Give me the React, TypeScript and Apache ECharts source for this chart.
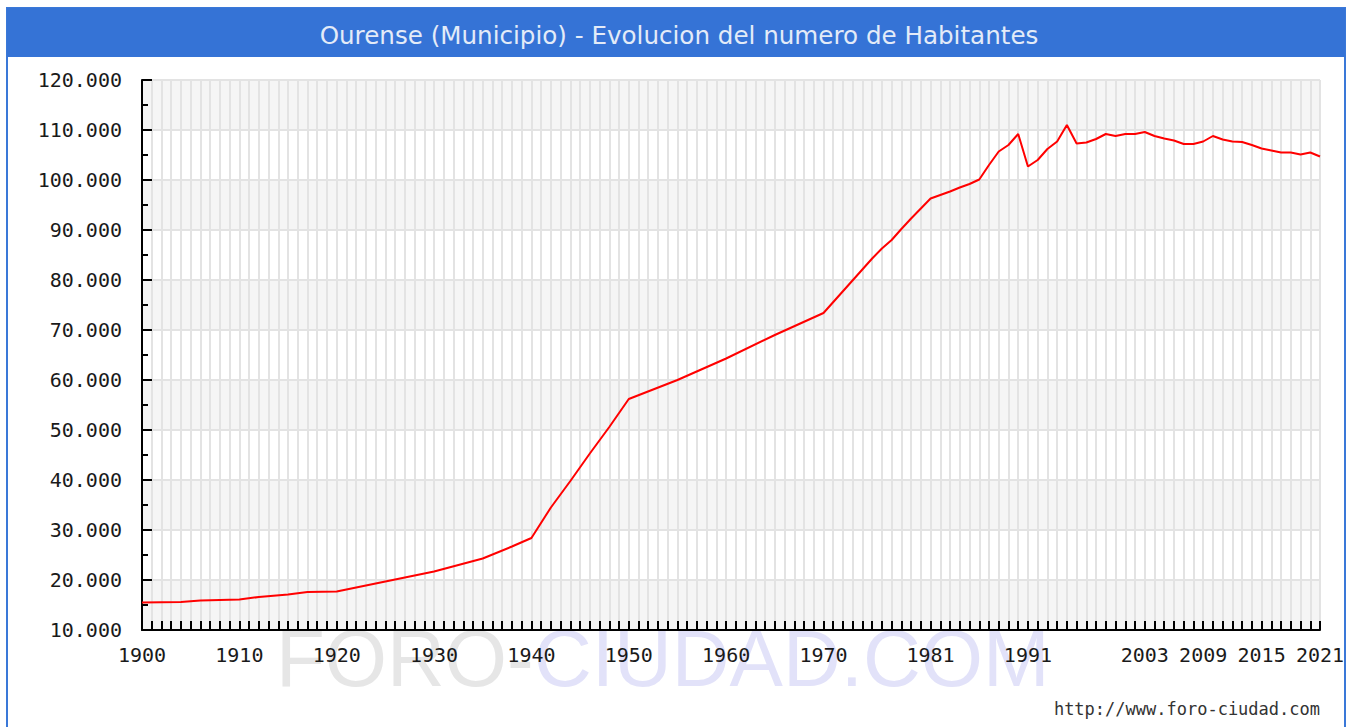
import React, { useEffect, useRef } from 'react';
import * as echarts from 'echarts';

const TITLE = 'Ourense (Municipio) - Evolucion del numero de Habitantes';
const FOOTER = 'http://www.foro-ciudad.com';
const WATERMARK_A = 'FORO-';
const WATERMARK_B = 'CIUDAD.COM';

const YEARS = [
  1900, 1904, 1906, 1910, 1912, 1915, 1917, 1920, 1925, 1930, 1935, 1938,
  1940, 1942, 1944, 1946, 1948, 1950, 1955, 1960, 1965, 1970,
  1975, 1976, 1977, 1978, 1979, 1980, 1981, 1982, 1983, 1984, 1985, 1986,
  1987, 1988, 1989, 1990, 1991, 1992, 1993, 1994, 1995, 1996, 1997, 1998,
  1999, 2000, 2001, 2002, 2003, 2004, 2005, 2006, 2007, 2008, 2009, 2010,
  2011, 2012, 2013, 2014, 2015, 2016, 2017, 2018, 2019, 2020, 2021,
];
const POPULATION = [
  15500, 15600, 15900, 16100, 16600, 17100, 17600, 17700, 19700, 21700, 24300, 26700,
  28400, 34500, 39800, 45300, 50600, 56200, 60000, 64300, 69000, 73400,
  84300, 86300, 88000, 90200, 92300, 94300, 96300, 97000, 97700, 98500, 99200, 100100,
  103000, 105700, 107000, 109200, 102700, 104000, 106200, 107700, 111000, 107300, 107500, 108200,
  109200, 108800, 109200, 109200, 109600, 108800, 108300, 107900, 107200, 107200, 107700, 108800,
  108100, 107700, 107600, 107000, 106300, 105900, 105500, 105500, 105100, 105500, 104700,
];
const LABEL_YEARS = [1900, 1910, 1920, 1930, 1940, 1950, 1960, 1970, 1981, 1991, 2003, 2009, 2015, 2021];
const X_MIN = 1900;
const X_MAX = 2021;
const Y_MIN = 10000;
const Y_MAX = 120000;
const Y_STEP = 10000;

const fmtThousands = (v: number) => String(Math.round(v)).replace(/\B(?=(\d{3})+(?!\d))/g, '.');

export default function App() {
  const ref = useRef<HTMLDivElement>(null);
  useEffect(() => {
    if (!ref.current) return;
    const chart = echarts.init(ref.current, undefined, { renderer: 'svg' });
    const option: any = {
      animation: false,
      backgroundColor: '#ffffff',
      grid: { left: 142, right: 32, top: 80, bottom: 97, containLabel: false },
      xAxis: {
        type: 'value',
        min: X_MIN,
        max: X_MAX,
        interval: 1,
        axisLine: { show: true, onZero: false, lineStyle: { color: '#000', width: 2 } },
        axisTick: { show: true, inside: true, length: 9, lineStyle: { color: '#000', width: 2 } },
        axisLabel: {
          show: true,
          showMinLabel: true,
          showMaxLabel: true,
          margin: 15,
          color: '#1a1a1a',
          fontFamily: 'DejaVu Sans Mono',
          fontSize: 20,
          formatter: (v: number) => (LABEL_YEARS.indexOf(Math.round(v)) >= 0 ? String(Math.round(v)) : ''),
        },
        splitLine: { show: true, lineStyle: { color: '#e3e3e3', width: 2 } },
      },
      yAxis: {
        type: 'value',
        min: Y_MIN,
        max: Y_MAX,
        interval: Y_STEP,
        axisLine: { show: true, onZero: false, lineStyle: { color: '#000', width: 2 } },
        axisTick: { show: true, inside: true, length: 10, lineStyle: { color: '#000', width: 2 } },
        minorTick: { show: true, splitNumber: 2, length: 6, lineStyle: { color: '#000', width: 2 } },
        axisLabel: {
          margin: 20,
          color: '#1a1a1a',
          fontFamily: 'DejaVu Sans Mono',
          fontSize: 20,
          formatter: (v: number) => fmtThousands(v),
        },
        splitLine: { show: true, lineStyle: { color: '#e3e3e3', width: 2 } },
        splitArea: { show: true, areaStyle: { color: ['#f5f5f5', '#ffffff'] } },
      },
      series: [
        {
          type: 'line',
          data: YEARS.map((y, i) => [y, POPULATION[i]]),
          symbol: 'none',
          showSymbol: false,
          silent: true,
          lineStyle: { color: '#ff0000', width: 2 },
          z: 5,
        },
      ],
      graphic: [
        {
          type: 'text',
          z: 0,
          silent: true,
          style: {
            text: WATERMARK_A,
            x: 276,
            y: 658,
            fill: '#e6e6e6',
            font: '80px "Liberation Sans", Arial, sans-serif',
            textAlign: 'left',
            textVerticalAlign: 'middle',
          },
        },
        {
          type: 'text',
          z: 0,
          silent: true,
          style: {
            text: WATERMARK_B,
            x: 534,
            y: 658,
            fill: '#e2e2f9',
            font: '80px "Liberation Sans", Arial, sans-serif',
            textAlign: 'left',
            textVerticalAlign: 'middle',
          },
        },
        {
          type: 'rect',
          z: 10,
          silent: true,
          shape: { x: 7, y: 8, width: 1338, height: 740 },
          style: { fill: 'none', stroke: '#3a78d8', lineWidth: 2 },
        },
        {
          type: 'rect',
          z: 10,
          silent: true,
          shape: { x: 7, y: 8, width: 1338, height: 49 },
          style: { fill: '#3573d6' },
        },
        {
          type: 'text',
          z: 11,
          silent: true,
          style: {
            text: TITLE,
            x: 679,
            y: 35,
            fill: '#e3ebf8',
            font: '24.6px "DejaVu Sans", Verdana, sans-serif',
            textAlign: 'center',
            textVerticalAlign: 'middle',
          },
        },
        {
          type: 'text',
          z: 11,
          silent: true,
          style: {
            text: FOOTER,
            x: 1320,
            y: 709,
            fill: '#333',
            font: '17px "DejaVu Sans Mono", monospace',
            textAlign: 'right',
            textVerticalAlign: 'middle',
          },
        },
      ],
    };
    chart.setOption(option);
    return () => chart.dispose();
  }, []);
  return <div ref={ref} style={{ position: 'absolute', left: 0, top: 0, width: 1352, height: 727 }} />;
}
